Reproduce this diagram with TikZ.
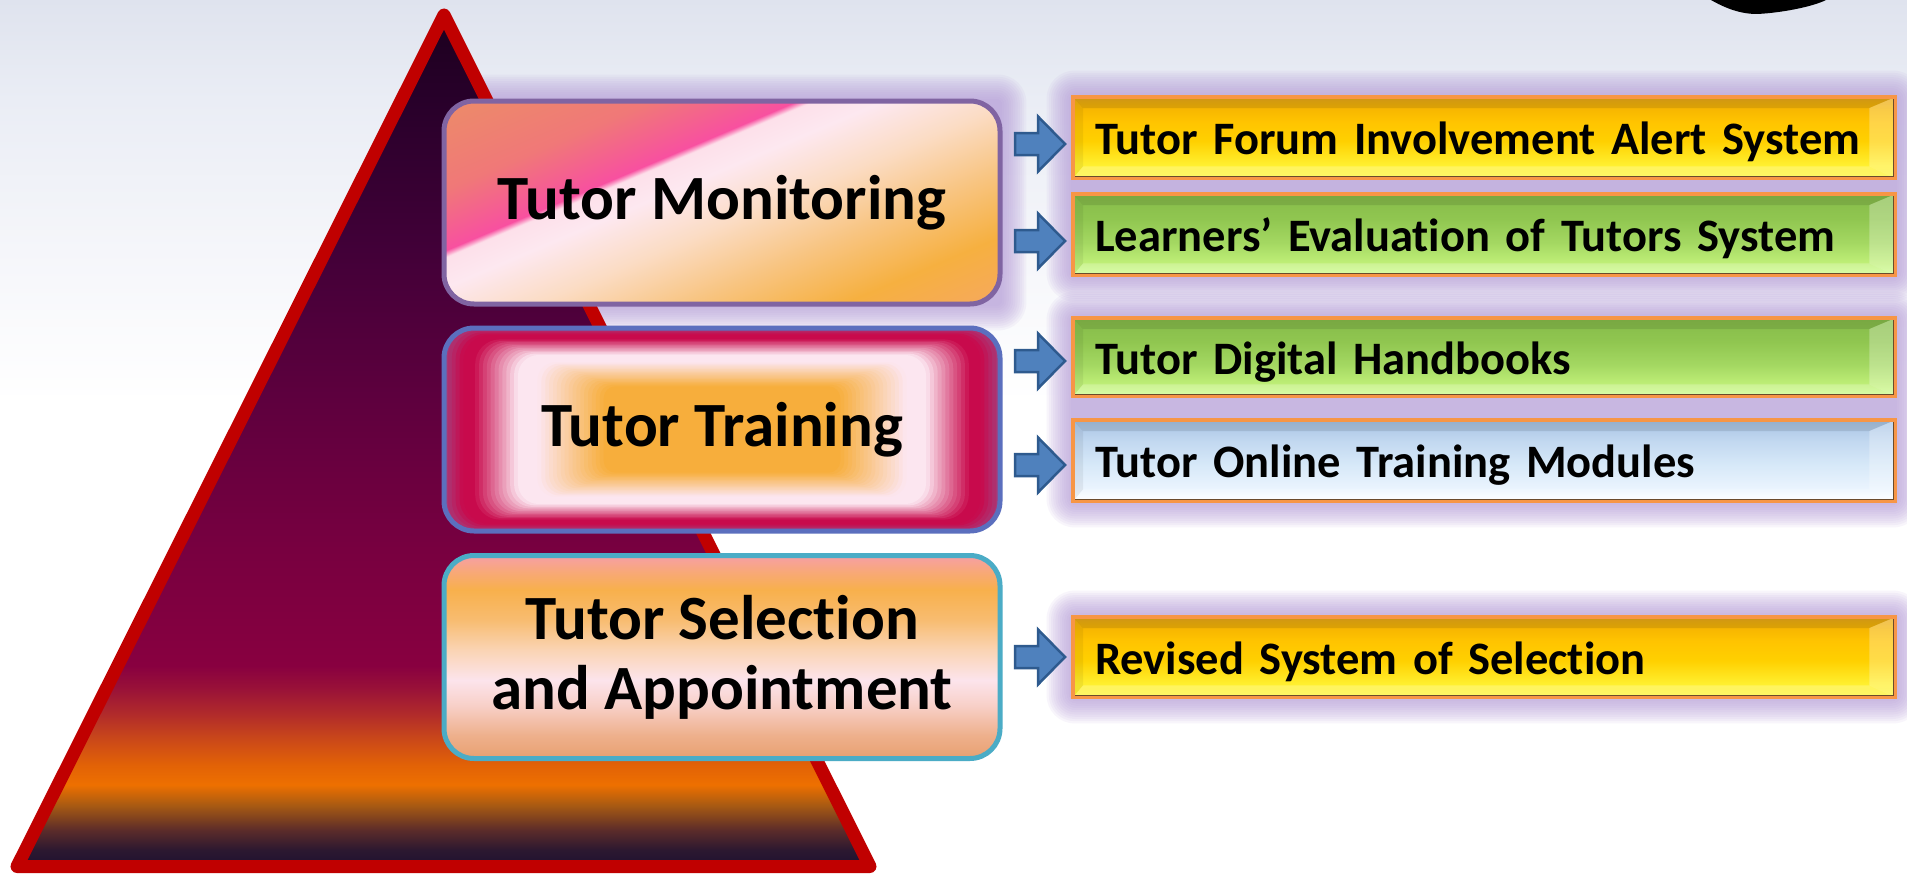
\documentclass[tikz,border=0pt]{standalone}
\usepackage{fontspec}
\setmainfont{Carlito}[Ligatures=NoCommon]
\usetikzlibrary{calc}

% background
\definecolor{bgA}{HTML}{DFE3EE}
\definecolor{bgB}{HTML}{EAEDF5}
\definecolor{bgC}{HTML}{F5F6FA}
\pgfdeclareverticalshading{bgshade}{100bp}{color(0bp)=(white); color(52bp)=(white); color(60.7bp)=(bgC); color(69.3bp)=(bgB); color(75bp)=(bgA); color(100bp)=(bgA)}

% triangle
\definecolor{tA}{HTML}{1E1030}
\definecolor{tB}{HTML}{2C1830}
\definecolor{tC}{HTML}{5C2C2A}
\definecolor{tD}{HTML}{A85A12}
\definecolor{tE}{HTML}{EE7000}
\definecolor{tF}{HTML}{E26206}
\definecolor{tG}{HTML}{CC4A18}
\definecolor{tH}{HTML}{B22C2A}
\definecolor{tI}{HTML}{9A1238}
\definecolor{tJ}{HTML}{880040}
\definecolor{tK}{HTML}{780040}
\definecolor{tL}{HTML}{5E003E}
\definecolor{tM}{HTML}{420038}
\definecolor{tN}{HTML}{28002A}
\definecolor{tO}{HTML}{1C001E}
\pgfdeclareverticalshading{trishade}{100bp}{color(0bp)=(tA); color(25bp)=(tA); color(25.97bp)=(tB); color(27.15bp)=(tC); color(28.6bp)=(tD); color(29.8bp)=(tE); color(30.96bp)=(tF); color(32.4bp)=(tG); color(33.9bp)=(tH); color(35.4bp)=(tI); color(36.8bp)=(tJ); color(43.6bp)=(tK); color(52.4bp)=(tL); color(61.2bp)=(tM); color(70bp)=(tN); color(75bp)=(tO); color(100bp)=(tO)}
\definecolor{trired}{HTML}{C00000}

% monitoring box (diagonal linear gradient, drawn in a rotated canvas)
\definecolor{mA}{HTML}{EC8C68}
\definecolor{mB}{HTML}{F07878}
\definecolor{mC}{HTML}{F65898}
\definecolor{mD}{HTML}{F850A0}
\definecolor{mE}{HTML}{FDE0EA}
\definecolor{mF}{HTML}{FDE8F0}
\definecolor{mG}{HTML}{FBDCC4}
\definecolor{mH}{HTML}{F8C480}
\definecolor{mI}{HTML}{F6B040}
\definecolor{mJ}{HTML}{F6AA58}
\definecolor{mK}{HTML}{F4A080}
\pgfdeclarehorizontalshading{monshade}{100bp}{color(0bp)=(mA); color(33bp)=(mA); color(40bp)=(mB); color(43.75bp)=(mC); color(44.67bp)=(mD); color(45.2bp)=(mE); color(47.5bp)=(mF); color(51.7bp)=(mG); color(56.7bp)=(mH); color(61.7bp)=(mI); color(65.8bp)=(mJ); color(67bp)=(mK); color(100bp)=(mK)}

% selection box
\definecolor{sA}{HTML}{E8A070}
\definecolor{sB}{HTML}{EEB08C}
\definecolor{sC}{HTML}{F8D0C8}
\definecolor{sD}{HTML}{FCE4EC}
\definecolor{sE}{HTML}{FAD4B4}
\definecolor{sF}{HTML}{F8BC70}
\definecolor{sG}{HTML}{F8B04C}
\definecolor{sH}{HTML}{F8A878}
\definecolor{sI}{HTML}{F6A0A0}
\pgfdeclareverticalshading{selshade}{100bp}{color(0bp)=(sA); color(25bp)=(sA); color(30.7bp)=(sB); color(38.1bp)=(sC); color(44.3bp)=(sD); color(51.7bp)=(sE); color(59.2bp)=(sF); color(66.6bp)=(sG); color(71bp)=(sH); color(74.5bp)=(sI); color(100bp)=(sI)}

% training box
\definecolor{edgec}{HTML}{A83A78}
\definecolor{crim}{HTML}{C80A4C}
\definecolor{pinkw}{HTML}{FCE6F0}
\definecolor{orng}{HTML}{F7AE3C}

% right boxes
\definecolor{yA}{HTML}{FDF53A}
\definecolor{yB}{HTML}{FFF030}
\definecolor{yC}{HTML}{FFD000}
\definecolor{yD}{HTML}{FFC400}
\definecolor{yE}{HTML}{F8B800}
\definecolor{yF}{HTML}{E8A818}
\pgfdeclareverticalshading{ryel}{100bp}{color(0bp)=(yA); color(25bp)=(yA); color(33bp)=(yB); color(48bp)=(yC); color(60bp)=(yD); color(67bp)=(yE); color(75bp)=(yF); color(100bp)=(yF)}
\definecolor{gA}{HTML}{D0FF90}
\definecolor{gB}{HTML}{C0F078}
\definecolor{gC}{HTML}{A4D862}
\definecolor{gD}{HTML}{90C650}
\definecolor{gE}{HTML}{86BC4A}
\pgfdeclareverticalshading{rgrn}{100bp}{color(0bp)=(gA); color(25bp)=(gA); color(32bp)=(gB); color(45bp)=(gC); color(60bp)=(gD); color(75bp)=(gE); color(100bp)=(gE)}
\definecolor{bA}{HTML}{FFFFFF}
\definecolor{bB}{HTML}{EAF4FE}
\definecolor{bC}{HTML}{D6E8F8}
\definecolor{bD}{HTML}{C2D8F0}
\definecolor{bE}{HTML}{A8C4E4}
\pgfdeclareverticalshading{rblu}{100bp}{color(0bp)=(bA); color(25bp)=(bA); color(33bp)=(bB); color(48bp)=(bC); color(62bp)=(bD); color(75bp)=(bE); color(100bp)=(bE)}
\definecolor{rbord}{HTML}{F79646}
\definecolor{rdark}{HTML}{6B4A2B}
\definecolor{glowc}{HTML}{B49AD8}
\definecolor{monbord}{HTML}{8064A2}
\definecolor{trabord}{HTML}{5B6FBE}
\definecolor{selbord}{HTML}{4BACC6}
\definecolor{arrfill}{HTML}{4F81BD}
\definecolor{arrdraw}{HTML}{2E5A8E}

\tikzset{
  mainbox/.style={rounded corners=30pt, line width=5pt, inner sep=0pt,
    minimum width=556pt, minimum height=203pt, align=center,
    font=\fontsize{63}{70}\selectfont\bfseries},
  rbox/.style={minimum width=822pt, inner xsep=22pt, inner ysep=0pt,
    text width=778pt, align=left, anchor=north west,
    text height=34pt, text depth=0pt,
    font=\fontsize{46.5}{50}\selectfont\bfseries},
  arrowstyle/.style={fill=arrfill, draw=arrdraw, line width=2.5pt, line join=miter},
  pics/barrow/.style={code={
    \draw[arrowstyle] (-25,-11) -- (-2,-11) -- (-2,-27.5) -- (25,0) -- (-2,27.5) -- (-2,11) -- (-25,11) -- cycle;
  }}
}

\newcommand\glowbox[4]{%
  \foreach \k in {1,...,12}{%
    \pgfmathsetmacro{\rc}{2*\k+4}%
    \fill[glowc, opacity=0.09, rounded corners=\rc pt] ({#1-2.2*\k},{#2-2.2*\k}) rectangle ({#3+2.2*\k},{#4+2.2*\k});
  }}

\newcommand\bevel[1]{%
  \fill[black,opacity=.10] (#1.north west) -- (#1.north east) -- ($(#1.north east)+(-26,11)$) -- ($(#1.north west)+(10,11)$) -- cycle;
  \fill[black,opacity=.06] (#1.north west) -- ($(#1.north west)+(10,11)$) -- ($(#1.south west)+(10,-12)$) -- (#1.south west) -- cycle;
  \fill[white,opacity=.28] (#1.north east) -- (#1.south east) -- ($(#1.south east)+(-26,-12)$) -- ($(#1.north east)+(-26,11)$) -- cycle;
  \fill[white,opacity=.22] (#1.south west) -- (#1.south east) -- ($(#1.south east)+(-26,-12)$) -- ($(#1.south west)+(10,-12)$) -- cycle;
  \draw[rbord, line width=4pt] (#1.north west) rectangle (#1.south east);
  \draw[rdark, line width=1.6pt] ($(#1.north east)+(-2,2)$) -- ($(#1.south east)+(-2,-2)$) -- ($(#1.south west)+(2,-2)$);
}

\begin{document}
\begin{tikzpicture}[x=1pt, y=-1pt]
\useasboundingbox (0,0) rectangle (1907,875);
\shade[shading=bgshade] (0,0) rectangle (1907,875);

% black shape at top right
\fill[black] (1711,0) .. controls (1725,8) and (1740,14) .. (1757,14) .. controls (1780,13) and (1812,7) .. (1826,0) -- cycle;

% glows
\glowbox{444}{101}{1000}{304}
\glowbox{1073}{97}{1895}{275}
\glowbox{1073}{318}{1895}{501}
\glowbox{1073}{617}{1895}{697}

% pyramid
\shade[shading=trishade] (444,15) -- (870,866.5) -- (17,866.5) -- cycle;
\draw[trired, line width=13pt, line join=round] (444,15) -- (870,866.5) -- (17,866.5) -- cycle;

% Tutor Monitoring
\begin{scope}
  \clip[rounded corners=30pt] (444,101) rectangle (1000,304);
  \begin{scope}[transform canvas={shift={(722,202.5)}, rotate=-67}]
    \shade[shading=monshade] (-300,-300) rectangle (300,300);
  \end{scope}
\end{scope}
\node[mainbox, draw=monbord] (m1) at (722,202.5) {Tutor Monitoring};

% Tutor Training (rectangular gradient)
\foreach \i in {0,...,60}{%
  \pgfmathsetmacro{\tv}{\i*0.007}%
  \pgfmathsetmacro{\hw}{278*(1-2*\tv)}%
  \pgfmathsetmacro{\hh}{101.5*(1-2*\tv)}%
  \pgfmathsetmacro{\rr}{max(1,28*(1-2*\tv))}%
  \pgfmathtruncatemacro{\seg}{\tv<0.03 ? 1 : (\tv<0.05 ? 2 : (\tv<0.13 ? 3 : (\tv<0.165 ? 4 : 5)))}%
  \ifcase\seg\or
    \pgfmathtruncatemacro{\pmix}{100*\tv/0.03}\colorlet{lay}{crim!\pmix!edgec}%
  \or \colorlet{lay}{crim}%
  \or \pgfmathtruncatemacro{\pmix}{100*(\tv-0.05)/0.08}\colorlet{lay}{pinkw!\pmix!crim}%
  \or \colorlet{lay}{pinkw}%
  \or \pgfmathtruncatemacro{\pmix}{min(100,100*(\tv-0.165)/0.12)}\colorlet{lay}{orng!\pmix!pinkw}%
  \fi
  \fill[lay, rounded corners=\rr pt] ({722-\hw},{429.5-\hh}) rectangle ({722+\hw},{429.5+\hh});
}
\node[mainbox, draw=trabord] (m2) at (722,429.5) {Tutor Training};

% Tutor Selection
\node[mainbox, draw=selbord, shading=selshade] (m3) at (722,657) {Tutor Selection\\and Appointment};

% arrows
\pic (a1) at (1040,144) {barrow};
\pic (a2) at (1040,241) {barrow};
\pic (a3) at (1040,361) {barrow};
\pic (a4) at (1040,465) {barrow};
\pic (a5) at (1040,657) {barrow};

% right boxes
\node[rbox, shading=ryel, minimum height=81pt] (r1) at (1073,97) {Tutor Forum Involvement Alert System};
\bevel{r1}
\node[rbox, shading=rgrn, minimum height=81pt] (r2) at (1073,194) {Learners’ Evaluation of Tutors System};
\bevel{r2}
\node[rbox, shading=rgrn, minimum height=78pt] (r3) at (1073,318) {Tutor Digital Handbooks};
\bevel{r3}
\node[rbox, shading=rblu, minimum height=81pt] (r4) at (1073,420) {Tutor Online Training Modules};
\bevel{r4}
\node[rbox, shading=ryel, minimum height=80pt] (r5) at (1073,617) {Revised System of Selection};
\bevel{r5}
\end{tikzpicture}
\end{document}
